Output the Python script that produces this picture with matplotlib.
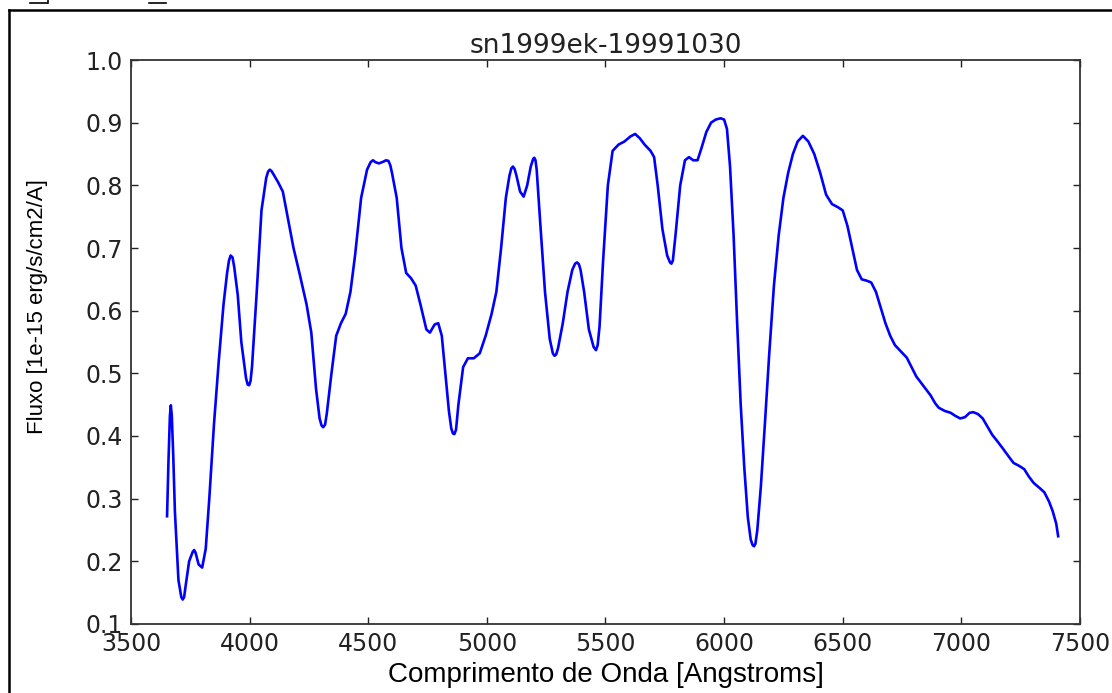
import numpy as np
from matplotlib import pyplot as plt
from matplotlib.lines import Line2D

# espectro (comprimento de onda [A], fluxo [1e-15 erg/s/cm2/A])
wave = [3652, 3658, 3664, 3668, 3672, 3678, 3685, 3700, 3712, 3718, 3724, 3730, 3745,
        3760, 3766, 3772, 3785, 3800, 3815, 3830, 3850, 3870, 3890, 3905,
        3913, 3920, 3928, 3935, 3950, 3965, 3985, 3992, 3998, 4004, 4010, 4030, 4050, 4070,
        4078, 4085, 4092, 4100, 4120, 4140, 4160, 4185, 4210, 4240, 4260, 4280,
        4295, 4303, 4310, 4318, 4325, 4345, 4365, 4385, 4405, 4425, 4445, 4470,
        4495, 4510, 4520, 4530, 4545, 4565, 4575, 4585, 4593, 4600, 4620, 4640, 4660, 4680,
        4700, 4720, 4745, 4760, 4780, 4795, 4810, 4825, 4840, 4850, 4857,
        4863, 4870, 4880, 4900, 4920, 4945, 4970, 4995, 5020, 5040, 5060,
        5080, 5095, 5103, 5110, 5117, 5125, 5140, 5155, 5170, 5185, 5195, 5200, 5205, 5210,
        5225, 5245, 5265, 5278, 5285, 5292, 5300, 5320, 5340, 5360, 5372, 5380, 5388, 5395,
        5410, 5430, 5450, 5460, 5467, 5475, 5490, 5510, 5530, 5555, 5580,
        5605, 5625, 5645, 5665, 5690, 5705, 5720, 5740, 5760, 5772, 5778, 5784,
        5795, 5815, 5835, 5852, 5870, 5888, 5905, 5925, 5945, 5965,
        5985, 6000, 6012, 6025, 6040, 6055, 6070, 6085, 6100, 6112,
        6120, 6126, 6132, 6140, 6155, 6172, 6190, 6210, 6230, 6250, 6270, 6290,
        6310, 6332, 6355, 6380, 6405, 6430, 6455, 6480, 6500, 6520,
        6540, 6560, 6580, 6600, 6620, 6640, 6660, 6680, 6700, 6720,
        6745, 6770, 6790, 6810, 6830, 6850, 6870, 6890, 6905, 6930,
        6955, 6975, 6995, 7015, 7035, 7050, 7070, 7090, 7110, 7130,
        7155, 7175, 7200, 7220, 7245, 7265, 7285, 7305, 7330, 7350,
        7370, 7385, 7400, 7408]
flux = [0.272, 0.360, 0.432, 0.449, 0.432, 0.370, 0.280, 0.170, 0.143, 0.139, 0.143, 0.160, 0.200,
        0.215, 0.218, 0.214, 0.195, 0.190, 0.220, 0.300, 0.420, 0.520, 0.610, 0.660,
        0.680, 0.688, 0.685, 0.670, 0.625, 0.550, 0.492, 0.482, 0.481, 0.488, 0.510, 0.630, 0.760, 0.812,
        0.822, 0.825, 0.823, 0.818, 0.805, 0.790, 0.750, 0.700, 0.660, 0.610, 0.565, 0.475,
        0.428, 0.417, 0.414, 0.418, 0.435, 0.500, 0.560, 0.580, 0.595, 0.630, 0.690, 0.780,
        0.825, 0.837, 0.840, 0.837, 0.835, 0.838, 0.840, 0.839, 0.832, 0.820, 0.780, 0.700, 0.660, 0.652,
        0.640, 0.610, 0.570, 0.565, 0.578, 0.580, 0.560, 0.500, 0.440, 0.412, 0.404,
        0.403, 0.410, 0.450, 0.510, 0.524, 0.524, 0.532, 0.560, 0.595, 0.630, 0.700,
        0.780, 0.815, 0.827, 0.830, 0.826, 0.815, 0.790, 0.782, 0.800, 0.830, 0.842, 0.844, 0.840, 0.825,
        0.740, 0.630, 0.555, 0.532, 0.528, 0.530, 0.540, 0.580, 0.630, 0.665, 0.675, 0.677, 0.674, 0.665,
        0.630, 0.570, 0.542, 0.537, 0.545, 0.575, 0.680, 0.800, 0.855, 0.865, 0.870,
        0.878, 0.882, 0.875, 0.865, 0.855, 0.845, 0.800, 0.730, 0.688, 0.677, 0.675, 0.680,
        0.720, 0.800, 0.840, 0.845, 0.840, 0.840, 0.860, 0.885, 0.900, 0.905,
        0.907, 0.905, 0.890, 0.830, 0.720, 0.580, 0.450, 0.350, 0.270, 0.235,
        0.226, 0.224, 0.228, 0.250, 0.320, 0.420, 0.530, 0.640, 0.720, 0.780, 0.820, 0.850,
        0.870, 0.879, 0.870, 0.850, 0.820, 0.785, 0.770, 0.765, 0.760, 0.735,
        0.700, 0.665, 0.650, 0.648, 0.645, 0.630, 0.605, 0.580, 0.560, 0.545,
        0.535, 0.525, 0.510, 0.495, 0.485, 0.475, 0.465, 0.452, 0.445, 0.440,
        0.437, 0.432, 0.428, 0.430, 0.437, 0.438, 0.435, 0.428, 0.415, 0.402,
        0.390, 0.380, 0.367, 0.357, 0.352, 0.347, 0.335, 0.325, 0.317, 0.310,
        0.295, 0.280, 0.260, 0.240]

xticks = [3500, 4000, 4500, 5000, 5500, 6000, 6500, 7000, 7500]
yticks = [0.1, 0.2, 0.3, 0.4, 0.5, 0.6, 0.7, 0.8, 0.9, 1.0]


def main():
    fig = plt.figure(figsize=(11.12, 6.93), dpi=100)
    ax = fig.add_axes([0.1178, 0.0996, 0.8534, 0.8138])

    ax.plot(wave, flux, color="#0000ff", lw=1.9)

    ax.set_xlim(3500, 7500)
    ax.set_ylim(0.1, 1.0)
    ax.set_xticks(xticks)
    ax.set_yticks(yticks)
    ax.set_xticklabels([str(t) for t in xticks])
    ax.set_yticklabels(["%.1f" % t for t in yticks])
    ax.tick_params(direction="in", length=5, width=1, top=True, right=True,
                   labelsize=17, colors="#222222", labelcolor="#222222", pad=6)
    for s in ax.spines.values():
        s.set_linewidth(1.3)
        s.set_color("#333333")

    ax.set_title("sn1999ek-19991030", fontsize=19, color="#222222", pad=5)
    ax.set_xlabel("Comprimento de Onda [Angstroms]", fontsize=20,
                  family="Liberation Sans", labelpad=4)
    ax.set_ylabel("Fluxo [1e-15 erg/s/cm2/A]", fontsize=16,
                  family="Liberation Sans")
    ax.yaxis.set_label_coords(-0.087, 0.562)

    # moldura do print de tela
    fig.add_artist(Line2D([9 / 1112, 9 / 1112], [0, 1 - 10 / 693],
                          transform=fig.transFigure, color="black", lw=1.8))
    fig.add_artist(Line2D([9 / 1112, 1], [1 - 10 / 693, 1 - 10 / 693],
                          transform=fig.transFigure, color="black", lw=1.8))
    # restos de texto cortado no topo
    fig.add_artist(Line2D([30 / 1112, 47 / 1112], [1 - 3 / 693, 1 - 3 / 693],
                          transform=fig.transFigure, color="black", lw=1.2))
    fig.add_artist(Line2D([48 / 1112, 48 / 1112], [1 - 3 / 693, 1],
                          transform=fig.transFigure, color="black", lw=1.2))
    fig.add_artist(Line2D([149 / 1112, 166 / 1112], [1 - 3 / 693, 1 - 3 / 693],
                          transform=fig.transFigure, color="black", lw=1.2))

    fig.savefig("out.png", dpi=100)


if __name__ == '__main__':
    main()
